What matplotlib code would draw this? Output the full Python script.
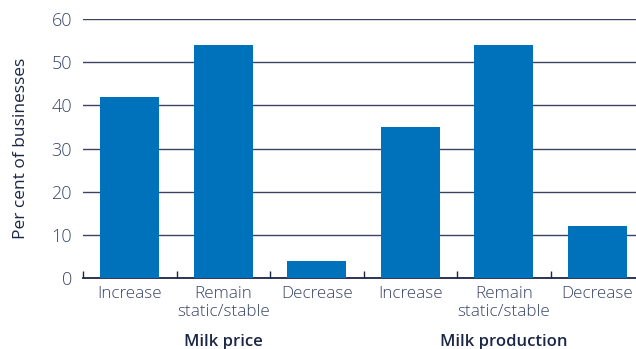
import matplotlib
matplotlib.use('Agg')
import matplotlib.pyplot as plt

# Data
categories = ['Increase', 'Remain\nstatic/stable', 'Decrease',
              'Increase', 'Remain\nstatic/stable', 'Decrease']
values = [42, 54, 4, 35, 54, 12]
groups = ['Milk price', 'Milk production']
yticks = [0, 10, 20, 30, 40, 50, 60]

BLUE = '#0072bb'
NAVY = '#1c2747'
GRID = '#3a4462'
TEXT = '#3b4668'

plt.rcParams['font.family'] = ['Open Sans', 'DejaVu Sans']

fig = plt.figure(figsize=(6.36, 3.49), dpi=100)
# axis runs past the right edge, as in the original
ax = fig.add_axes([83/636, 1 - 278/349, 561/636, 259/349])

x = range(len(values))
ax.bar(x, values, width=0.63, color=BLUE, zorder=3)

ax.set_xlim(-0.5, len(values) - 0.5)
ax.set_ylim(0, 60)
ax.set_yticks(yticks)
ax.yaxis.grid(True, color=GRID, linewidth=1.0, zorder=0)
ax.set_axisbelow(True)

for s in ['top', 'right', 'left']:
    ax.spines[s].set_visible(False)
ax.spines['bottom'].set_color(NAVY)
ax.spines['bottom'].set_linewidth(1.3)

# x ticks: category labels centred, small marks at slot boundaries
ax.set_xticks(list(x))
ax.set_xticklabels(categories, fontsize=12.3, color=TEXT, linespacing=1.15,
                   fontweight='light')
ax.tick_params(axis='x', length=0, pad=6)
ax.set_xticks([i - 0.5 for i in range(len(values))], minor=True)
ax.tick_params(axis='x', which='minor', direction='in', length=5,
               color=NAVY, width=1)
ax.tick_params(axis='y', length=0, labelsize=13, labelcolor=TEXT, pad=8)
for lbl in ax.get_yticklabels():
    lbl.set_fontweight('light')

ax.set_ylabel('Per cent of businesses', fontsize=12.5, color=NAVY,
              labelpad=16)

# group labels under each set of three bars
for i, g in enumerate(groups):
    ax.text(1 + 3 * i, -14.8, g, ha='center', va='center', fontsize=12,
            color=NAVY, fontweight='semibold')

plt.savefig('out.png', dpi=100)
plt.close()
